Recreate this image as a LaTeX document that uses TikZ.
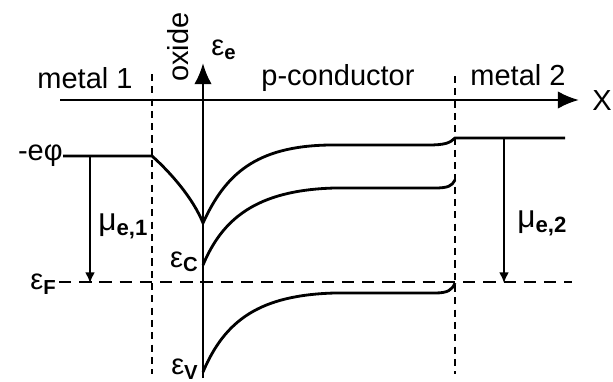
\documentclass[tikz,border=0pt]{standalone}
\usepackage{fontspec}
\setmainfont{Liberation Sans}
\usetikzlibrary{arrows.meta}
\newcommand\lsub[1]{\textsubscript{\textbf{#1}}}
\begin{document}
\begin{tikzpicture}[x=0.02cm, y=-0.02cm,
  lbl/.style={font=\fontsize{16.5}{18}\selectfont, inner sep=0pt},
  axis/.style={line width=1.6pt, -{Latex[length=12pt,width=10pt]}},
  band/.style={line width=1.6pt},
  mu/.style={line width=0.9pt, -{Latex[length=6pt,width=5.5pt]}},
  border/.style={line width=1pt, dash pattern=on 4pt off 3pt},
  fermi/.style={line width=1pt, dash pattern=on 7pt off 4.5pt}]
\useasboundingbox (0,0) rectangle (613,382);

\node[lbl] (m1) at (85,78) {metal 1};
\node[lbl, rotate=90] (ox) at (178,47) {oxide};
\node[lbl] (pc) at (338,78) {p-conductor};
\node[lbl] (m2) at (518,75) {metal 2};
\node[lbl] (xlab) at (602,101) {X};
\node[lbl] (ee) at (224,50) {ε\lsub{e}};
\node[lbl, anchor=east] (phi) at (63,156) {-eφ};
\node[lbl, anchor=east] (ef) at (57,284) {ε\lsub{F}};
\node[lbl, anchor=east] (ec) at (199,262) {ε\lsub{C}};
\node[lbl, anchor=east] (ev) at (199,369) {ε\lsub{V}};
\node[lbl, anchor=west, font=\fontsize{18}{20}\selectfont] (mu1) at (98,226) {μ\lsub{e,1}};
\node[lbl, anchor=west, font=\fontsize{18}{20}\selectfont] (mu2) at (517,223) {μ\lsub{e,2}};

\coordinate (xs) at (60,100);
\coordinate (xe) at (579,100);
\coordinate (es) at (203,378);
\coordinate (et) at (203,63);
\coordinate (b1t) at (152,74);
\coordinate (b1b) at (152,374);
\coordinate (b2t) at (455,76);
\coordinate (b2b) at (455,374);
\coordinate (fe) at (572,282);
\coordinate (mu1t) at (90,156);
\coordinate (mu1b) at (90,283);
\coordinate (mu2t) at (504,138);
\coordinate (mu2b) at (504,283);

\draw[border] (b1t) -- (b1b);
\draw[border] (b2t) -- (b2b);
\draw[fermi] (ef.east) ++(2,-2) -- (fe);
\draw[axis] (xs) -- (xe);
\draw[axis] (es) -- (et);

\draw[band] (phi.east) -- (152,156) .. controls (170,172) and (193,198) .. (203,223)
  .. controls (225,175) and (255,146) .. (330,145) -- (428,145)
  .. controls (445,145) and (450,143) .. (455,138) -- (565,138);
\draw[band] (203,265) .. controls (222,220) and (255,190) .. (335,188) -- (435,188)
  .. controls (448,188) and (452,186) .. (455,180);
\draw[band] (203,372) .. controls (225,320) and (260,295) .. (335,293) -- (435,293)
  .. controls (448,293) and (452,290) .. (455,283);

\draw[mu] (mu1t) -- (mu1b);
\draw[mu] (mu2t) -- (mu2b);
\end{tikzpicture}
\end{document}
